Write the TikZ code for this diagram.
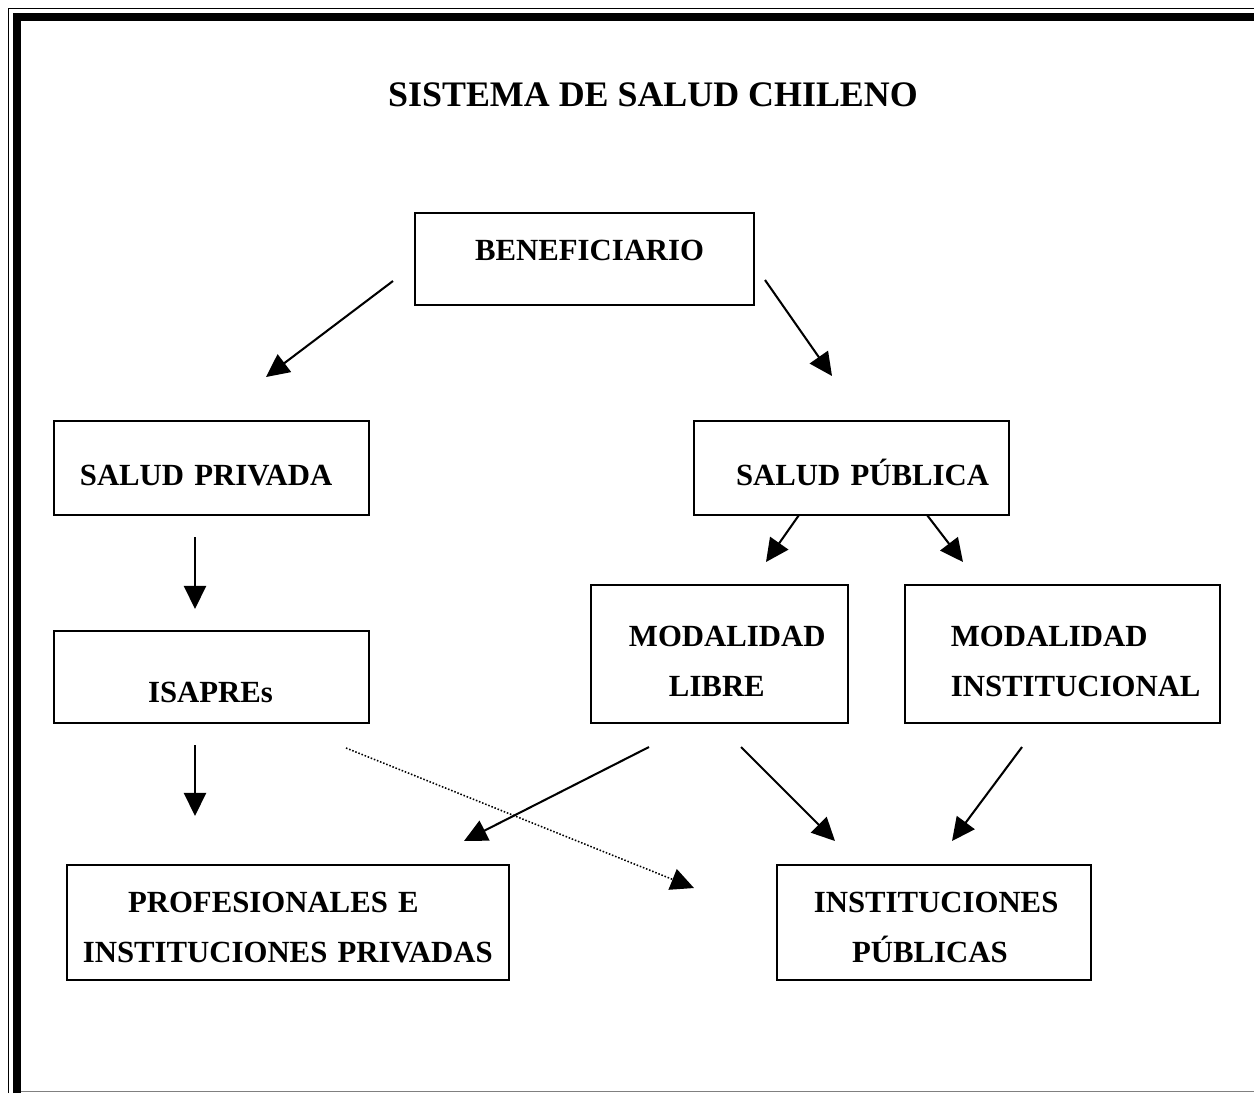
\documentclass[tikz,border=0pt]{standalone}
\usepackage{fontspec}
\setmainfont{Liberation Serif}
\usetikzlibrary{arrows.meta}
\setlength{\parindent}{0pt}

\tikzset{
  caja/.style={draw, line width=0.8pt, inner xsep=0pt, inner ysep=0pt, align=left,
    font={\fontsize{12pt}{19.5pt}\selectfont\bfseries}},
  flecha/.style={line width=0.8pt, -{Triangle[length=9pt,width=8.6pt]}},
  punteada/.style={line width=0.6pt, dash pattern=on 0.6pt off 0.7pt,
    -{Triangle[length=9pt,width=8.6pt]}}
}

\begin{document}
\begin{tikzpicture}[x=0.39pt, y=-0.39pt]
\useasboundingbox (0,0) rectangle (1254,1093);

    % marco
    \draw[line width=0.5pt] (8.5,1093) -- (8.5,8.5) -- (1254,8.5);
    \draw[line width=3.1pt] (17,1093) -- (17,17) -- (1254,17);
    \draw[line width=0.4pt, gray] (21,1091) -- (1254,1091);

    % titulo
    \node (titulo) at (653,95) [font={\fontsize{14pt}{17pt}\selectfont\bfseries}] {SISTEMA DE SALUD CHILENO};

    % cajas
    \node (benef) at (584.5,259) [caja, text width=132.2pt, minimum height=35.9pt, text height=8pt, text depth=7.2pt]
          {\hspace*{23.4pt}BENEFICIARIO};
    \node (privada) at (211.5,468) [caja, text width=122.85pt, minimum height=36.7pt, text height=13.3pt, text depth=0pt]
          {\hspace*{10.1pt}SALUD PRIVADA};
    \node (publica) at (851.5,468) [caja, text width=122.85pt, minimum height=36.7pt, text height=13.3pt, text depth=0pt]
          {\hspace*{16.4pt}SALUD PÚBLICA};
    \node (isapres) at (211.5,677) [caja, text width=122.85pt, minimum height=35.9pt, text height=19.5pt, text depth=0pt]
          {\hspace*{36.7pt}ISAPREs};
    \node (libre) at (719.5,654) [caja, text width=100.2pt, minimum height=53.8pt, text height=8pt, text depth=13.5pt]
          {\hspace*{14.8pt}MODALIDAD\\\hspace*{30.4pt}LIBRE};
    \node (instit) at (1062.5,654) [caja, text width=122.85pt, minimum height=53.8pt, text height=8pt, text depth=13.5pt]
          {\hspace*{17.9pt}MODALIDAD\\\hspace*{17.9pt}INSTITUCIONAL};
    \node (profes) at (288,922.5) [caja, text width=172.4pt, minimum height=44.85pt, text height=8pt, text depth=16.2pt]
          {\hspace*{23.8pt}PROFESIONALES E\\\hspace*{6.2pt}INSTITUCIONES PRIVADAS};
    \node (ipub) at (934,922.5) [caja, text width=122.5pt, minimum height=44.85pt, text height=8pt, text depth=16.2pt]
          {\hspace*{14.4pt}INSTITUCIONES\\\hspace*{29.3pt}PÚBLICAS};

    % flechas
    \coordinate (s1) at (393,281);  \coordinate (e1) at (266,377);
    \coordinate (s2) at (765,280);  \coordinate (e2) at (832,376);
    \coordinate (s3) at (195,537);  \coordinate (e3) at (195,609);
    \coordinate (s4) at (799,515);  \coordinate (e4) at (766,562);
    \coordinate (s5) at (927,515);  \coordinate (e5) at (963,562);
    \coordinate (s6) at (195,745);  \coordinate (e6) at (195,816);
    \coordinate (s7) at (649,747);  \coordinate (e7) at (464,841);
    \coordinate (s8) at (741,747);  \coordinate (e8) at (835,841);
    \coordinate (s9) at (1022,747); \coordinate (e9) at (952,841);
    \coordinate (s10) at (346,748); \coordinate (e10) at (694,888);
    \foreach \i in {1,...,9}
             { \draw[flecha] (s\i) -- (e\i); }
    \draw[punteada] (s10) -- (e10);

\end{tikzpicture}
\end{document}
